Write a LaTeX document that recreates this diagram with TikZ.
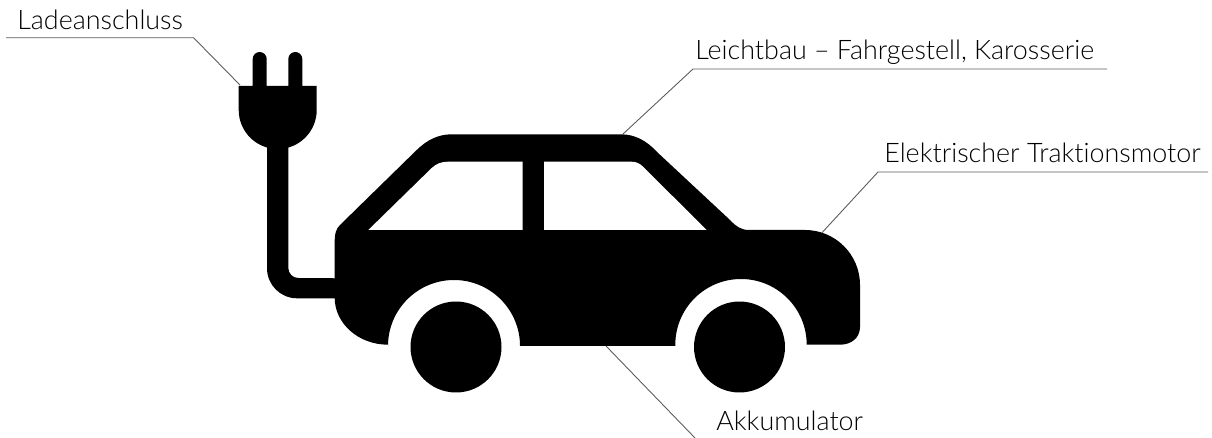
\documentclass[tikz,border=0pt]{standalone}
\usepackage{fontspec}
\setmainfont[Ligatures=NoCommon]{Lato Light}
\usetikzlibrary{positioning}
\definecolor{LeaderGray}{HTML}{5A5A5A}
\tikzset{
  partlabel/.style={inner sep=0pt,anchor=base west,font=\fontsize{15.3pt}{18pt}\selectfont},
  leader/.style={draw=LeaderGray,line width=0.5pt}
}

\begin{document}
\begin{tikzpicture}[x=0.02cm,y=-0.02cm]
        \useasboundingbox (0,0) rectangle (1212,438);
        % plug prongs and head
        \fill[black] (252.7,86) -- (252.7,59) arc[start angle=180,end angle=360,radius=7] -- (266.7,86) -- (288.3,86)
          -- (288.3,59) arc[start angle=180,end angle=360,radius=7] -- (302.3,86) -- (316.7,86) -- (316.7,110)
          arc[start angle=0,end angle=180,radius=39] -- (238.7,86) -- cycle;
        % cable
        \fill[black] (267,140) -- (288.3,140) -- (288.3,268) arc[start angle=180,end angle=90,radius=10] -- (340,278.3)
          -- (340,298.3) -- (297,298.3) arc[start angle=90,end angle=180,radius=30] -- cycle;
        % car body
        \fill[black] (334.7,298) -- (334.7,240) .. controls (334.7,233) and (336.5,228.5) .. (340,225)
          -- (416.7,150) .. controls (427,140) and (438,134.3) .. (452,134.3) -- (621,134.3)
          .. controls (635,134.3) and (647,141) .. (657,152) -- (730,220) .. controls (736,226.5) and (741,230) .. (749,230)
          -- (805,230) arc[start angle=-90,end angle=0,radius=55] -- (860,327) .. controls (860,338) and (851,344.7) .. (840,344.7)
          -- (806.7,344.7) arc[start angle=0,end angle=-180,radius=65.7] -- (675.3,346) -- (520,346)
          arc[start angle=0,end angle=-180,radius=66] -- (388,344.7)
          .. controls (358,344.7) and (334.7,323) .. (334.7,298) -- cycle;
        % windows
        \fill[white] (368.3,230) -- (431.7,168) .. controls (436,164) and (441,161.7) .. (448,161.7) -- (522.7,161.7) -- (522.7,230) -- cycle;
        \fill[white] (544,230) -- (544,161.7) -- (631.7,161.7) .. controls (636,161.7) and (640,163.5) .. (643,166.7) -- (706.7,230) -- cycle;
        % wheels
        \node[circle,fill=black,minimum size=1.82cm,inner sep=0pt] (wheelrear) at (456,347) {};
        \node[circle,fill=black,minimum size=1.82cm,inner sep=0pt] (wheelfront) at (739.5,347) {};
        % labels
        \node[partlabel] (charge) at (17,29.3) {Ladeanschluss};
        \node[partlabel] (body) at (695,59.3) {Leichtbau – Fahrgestell, Karosserie};
        \node[partlabel] (motor) at (884,162.3) {Elektrischer Traktionsmotor};
        \node[partlabel] (battery) at (716,430.7) {Akkumulator};
        % leaders
        \coordinate (chargeend) at (6,37.7);
        \coordinate (chargeknee) at (193.5,37.7);
        \coordinate (chargetip) at (240,85);
        \coordinate (bodyend) at (1107,69);
        \coordinate (bodyknee) at (693,69);
        \coordinate (bodytip) at (623,134);
        \coordinate (motorend) at (1208,172);
        \coordinate (motorknee) at (878,172);
        \coordinate (motortip) at (821.7,233);
        \coordinate (batterytip) at (606,346);
        \coordinate (batteryend) at (695,438);
        \draw[leader] (chargeend) -- (chargeknee) -- (chargetip);
        \draw[leader] (bodyend) -- (bodyknee) -- (bodytip);
        \draw[leader] (motorend) -- (motorknee) -- (motortip);
        \draw[leader] (batterytip) -- (batteryend);
      \end{tikzpicture}
\end{document}
